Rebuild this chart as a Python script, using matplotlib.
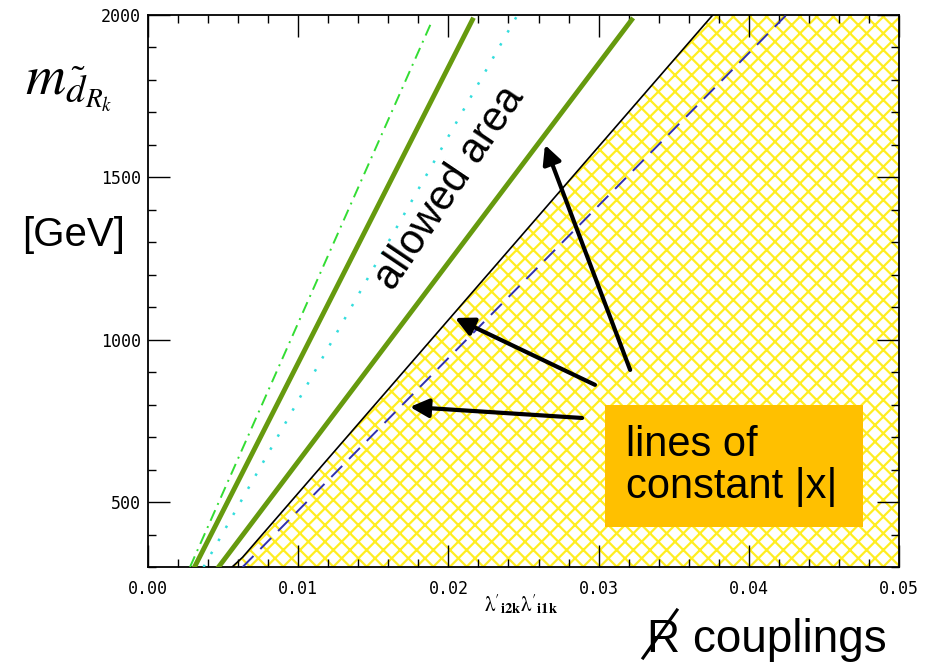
import numpy as np
import matplotlib
matplotlib.use("Agg")
import matplotlib.pyplot as plt
from matplotlib.patches import Rectangle
from matplotlib.lines import Line2D

# lines of constant |x|: (coupling, mass) at the two ends
green_dashdot_x = [0.0028, 0.0188]
green_dashdot_m = [300, 1970]
green_solid1_x = [0.0031, 0.0216]
green_solid1_m = [300, 1985]
cyan_dot_x = [0.0037, 0.0246]
cyan_dot_m = [300, 2000]
green_solid2_x = [0.0047, 0.0322]
green_solid2_m = [300, 1985]
blue_dash_x = [0.0063, 0.0425]
blue_dash_m = [300, 2000]
# boundary of the excluded (hatched) region
bound_x = [0.0056, 0.0063, 0.0376]
bound_m = [300, 330, 2000]

xticks = [0.00, 0.01, 0.02, 0.03, 0.04, 0.05]
yticks = [500, 1000, 1500, 2000]

plt.rcParams["hatch.linewidth"] = 1.6
plt.rcParams["mathtext.fontset"] = "stix"

fig = plt.figure(figsize=(9.4, 6.66), dpi=100)
ax = fig.add_axes([0.1574, 0.1486, 0.7990, 0.8289])

# hatched excluded region right of boundary
bm = np.linspace(300, 2000, 200)
bx = np.interp(bm, bound_m, bound_x)
ax.fill_betweenx(bm, bx, 0.05, facecolor="white", edgecolor="#ffee22",
                 hatch="xx", linewidth=0, zorder=1)

ax.plot(bound_x, bound_m, color="black", lw=1.2, zorder=3)
ax.plot(blue_dash_x, blue_dash_m, color="#3030b0", lw=1.4, ls=(0, (8, 5)), zorder=3)
ax.plot(green_dashdot_x, green_dashdot_m, color="#33dd33", lw=1.4, ls=(0, (6, 3, 1, 3)), zorder=3)
ax.plot(cyan_dot_x, cyan_dot_m, color="#33dddd", lw=1.8, ls=(0, (1, 5)), zorder=3)
ax.plot(green_solid1_x, green_solid1_m, color="#669a0e", lw=3.5, zorder=4)
ax.plot(green_solid2_x, green_solid2_m, color="#669a0e", lw=3.5, zorder=4)

ax.set_xlim(0, 0.05)
ax.set_ylim(300, 2000)
ax.set_xticks(xticks)
ax.set_xticklabels([f"{v:.2f}" for v in xticks])
ax.set_yticks(yticks)
ax.set_xticks(np.arange(0, 0.0501, 0.002), minor=True)
ax.set_yticks(np.arange(300, 2001, 100), minor=True)
ax.tick_params(which="both", direction="in", top=True, right=True, width=1.0)
ax.tick_params(which="major", length=16, pad=9)
ax.tick_params(which="minor", length=6)
ax.tick_params(axis="y", which="major", pad=5)
for lab in ax.get_xticklabels() + ax.get_yticklabels():
    lab.set_family("DejaVu Sans Mono")
    lab.set_fontsize(12)
for s in ax.spines.values():
    s.set_linewidth(1.3)

# annotations
ax.text(0.0201, 1467, "allowed area", rotation=56, fontsize=30,
        family="Liberation Sans", ha="center", va="center", zorder=5)
arrows = [((0.0321, 907), (0.02643, 1600)),
          ((0.02976, 861), (0.02044, 1067)),
          ((0.0289, 759), (0.01744, 793))]
for tail, head in arrows:
    ax.annotate("", xy=head, xytext=tail,
                arrowprops=dict(arrowstyle="-|>", lw=3, color="black",
                                mutation_scale=28, shrinkA=0, shrinkB=0),
                zorder=6)

fig.patches.append(Rectangle((605 / 940, 1 - 527 / 666), 258 / 940, 122 / 666,
                             transform=fig.transFigure, facecolor="#ffc000",
                             edgecolor="none", zorder=7))
fig.text(626 / 940, 1 - 466 / 666, "lines of\nconstant |x|", fontsize=30,
         family="Liberation Sans", ha="left", va="center", linespacing=1.05, zorder=8)

fig.text(25 / 940, 1 - 95 / 666, r"$m_{\tilde{d}_{R_k}}$", fontsize=40,
         ha="left", va="baseline")
fig.text(22 / 940, 1 - 235 / 666, "[GeV]", fontsize=29, family="Liberation Sans",
         ha="left", va="center")
fig.text(521 / 940, 1 - 605 / 666,
         r"$\mathrm{\lambda}'_{\mathbf{i2k}}\mathrm{\lambda}'_{\mathbf{i1k}}$",
         fontsize=15, ha="center", va="center")
fig.text(647 / 940, 1 - 640 / 666, "R couplings", fontsize=33,
         family="Liberation Sans", ha="left", va="center")
# slash through the R (R-parity violating)
fig.add_artist(Line2D([643 / 940, 677 / 940], [1 - 658 / 666, 1 - 610 / 666],
                      transform=fig.transFigure, color="black", lw=2.2))

plt.savefig("out.png", dpi=100)
